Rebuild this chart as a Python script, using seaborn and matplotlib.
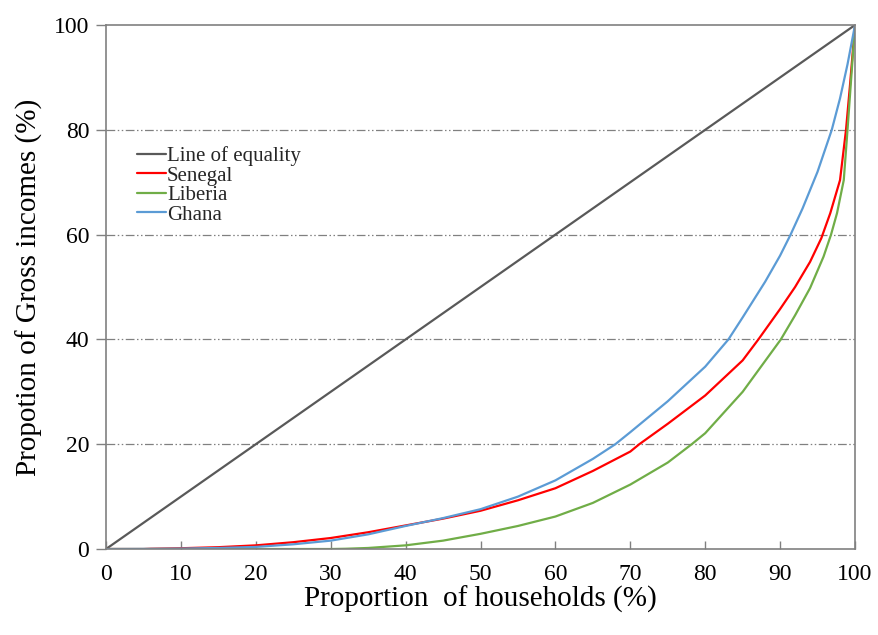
import numpy as np
import pandas as pd
import matplotlib
matplotlib.use("Agg")
import matplotlib.pyplot as plt
import seaborn as sns

# ---- data ----
equality_x = [0, 100]
equality_y = [0, 100]

ghana_x = [0, 5, 10, 15, 20, 25, 30, 35, 40, 45, 50, 55, 60, 65, 68, 70, 75, 80, 83.1,
           85, 88, 90, 91.4, 93, 95, 96.9, 98, 99, 100]
ghana_y = [0, 0.02, 0.08, 0.2, 0.4, 0.9, 1.6, 2.8, 4.4, 5.9, 7.6, 10.0, 13.1, 17.2, 20, 22.3,
           28.2, 34.8, 40, 44.2, 51, 56, 60, 65, 72, 80, 86, 92.5, 100]

senegal_x = [0, 5, 6, 10, 15, 20, 25, 30, 35, 40, 45, 50, 55, 60, 65, 70, 71.2, 75, 80,
             85, 87.1, 90, 92, 94, 95.5, 96.7, 98, 98.8, 99.3, 100]
senegal_y = [0, 0, 0.05, 0.15, 0.35, 0.7, 1.3, 2.1, 3.2, 4.5, 5.8, 7.3, 9.3, 11.6, 14.9,
             18.6, 20, 23.9, 29.3, 36.0, 40, 45.8, 50, 54.8, 59.3, 64.1, 70.4, 80, 88, 100]

liberia_x = [0, 30, 32, 35, 40, 45, 50, 55, 60, 65, 70, 75, 78.2, 80, 85, 90.1, 92, 94,
             95.8, 96.8, 97.6, 98.5, 99, 99.5, 100]
liberia_y = [0, 0, 0.05, 0.2, 0.7, 1.6, 2.9, 4.4, 6.2, 8.8, 12.3, 16.5, 20, 22.1, 30.0,
             40, 44.6, 49.8, 55.8, 60, 64.1, 70.4, 80, 90, 100]

series_names = ["Line of equality", "Senegal", "Liberia", "Ghana"]
series_colors = ["#595959", "#FF0000", "#70AD47", "#5B9BD5"]

frames = []
for name, xs, ys in [("Line of equality", equality_x, equality_y),
                     ("Senegal", senegal_x, senegal_y),
                     ("Liberia", liberia_x, liberia_y),
                     ("Ghana", ghana_x, ghana_y)]:
    frames.append(pd.DataFrame({"x": xs, "y": ys, "series": name}))
df = pd.concat(frames, ignore_index=True)

# ---- plotting ----
sns.set_theme(style="white")
plt.rcParams["font.family"] = ["Liberation Serif", "DejaVu Serif"]

fig = plt.figure(figsize=(8.79, 6.35), dpi=100)
ax = fig.add_axes([0.1206, 0.1354, 0.8521, 0.8252])

sns.lineplot(data=df, x="x", y="y", hue="series", hue_order=series_names,
             palette=dict(zip(series_names, series_colors)), estimator=None,
             sort=False, linewidth=1.6, ax=ax)

ax.set_xlim(0, 100)
ax.set_ylim(0, 100)
ax.set_xticks(np.arange(0, 101, 10))
ax.set_yticks(np.arange(0, 101, 20))

for yv in [20, 40, 60, 80]:
    ax.axhline(yv, color="#808080", linewidth=0.9, dashes=(7, 2, 1.2, 2, 1.2, 2), zorder=0)

for sp in ax.spines.values():
    sp.set_color("#808080")
    sp.set_linewidth(1.2)

ax.tick_params(axis="x", direction="in", length=6, width=1, color="#808080",
               labelsize=17, pad=11, labelcolor="black", bottom=True)
ax.tick_params(axis="y", direction="out", length=7, width=1, color="#808080",
               labelsize=17, pad=5, labelcolor="black", left=True)

ax.set_xlabel("Proportion  of households (%)", fontsize=21, labelpad=0, color="black")
ax.set_ylabel("Propotion of Gross incomes (%)", fontsize=21, labelpad=8, color="black")

leg = ax.legend(loc="upper left", bbox_to_anchor=(0.03, 0.785), frameon=False,
                fontsize=15, handlelength=1.4, handletextpad=0.05, labelspacing=0.0,
                borderaxespad=0)
for line in leg.get_lines():
    line.set_linewidth(1.6)

fig.savefig("out.png", dpi=100)
